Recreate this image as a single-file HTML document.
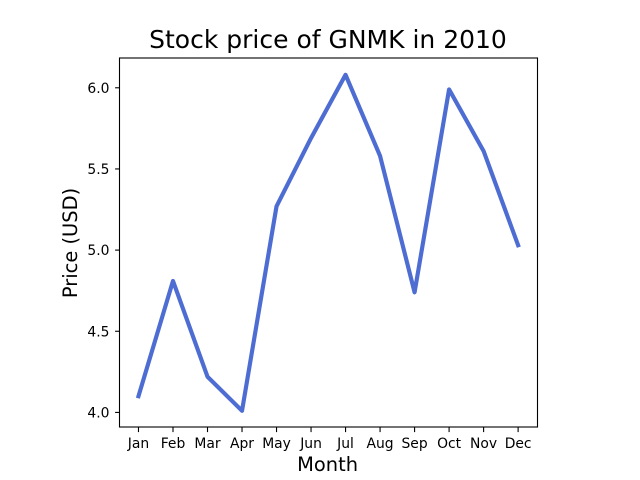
<!DOCTYPE html>
<html lang="en">
<head>
<meta charset="utf-8">
<title>Stock price of GNMK in 2010</title>
<style>
html,body{margin:0;padding:0;background:#fff;width:640px;height:480px;overflow:hidden}
svg{display:block}
text{font-family:"DejaVu Sans",sans-serif;fill:#000}
</style>
</head>
<body>
<svg id="chart" xmlns="http://www.w3.org/2000/svg" width="640" height="480" viewBox="0 0 640 480">
<rect x="0" y="0" width="640" height="480" fill="#fff"/>
<g id="marks"></g>
<rect x="119.5" y="58" width="418" height="369" fill="none" stroke="#000" stroke-width="1.1"/>
<g id="xaxis"></g>
<g id="yaxis"></g>
<text x="328" y="48" font-size="25" text-anchor="middle">Stock price of GNMK in 2010</text>
<text x="327.6" y="471" font-size="19.44" text-anchor="middle">Month</text>
<text x="0" y="0" font-size="19.44" text-anchor="middle" transform="translate(77 243) rotate(-90)">Price (USD)</text>
</svg>
<script>
const months = ['Jan','Feb','Mar','Apr','May','Jun','Jul','Aug','Sep','Oct','Nov','Dec'];
const prices = [4.10,4.81,4.22,4.01,5.27,5.69,6.08,5.58,4.74,5.99,5.61,5.03];
const yTicks = [4.0,4.5,5.0,5.5,6.0];
const yTickLabels = ['4.0','4.5','5.0','5.5','6.0'];

const NS = 'http://www.w3.org/2000/svg';
const plot = {left:119.5, right:537.1, top:58, bottom:427.6};
const margin = 0.05;
const lo = Math.min(...prices), hi = Math.max(...prices);
const yMin = lo - (hi - lo) * margin, yMax = hi + (hi - lo) * margin;
const xMin = -(months.length - 1) * margin, xMax = (months.length - 1) * (1 + margin);
function xScale(i){ return plot.left + (i - xMin) / (xMax - xMin) * (plot.right - plot.left); }
function yScale(v){ return plot.bottom - (v - yMin) / (yMax - yMin) * (plot.bottom - plot.top); }
function make(tag, attrs, parent){
  const el = document.createElementNS(NS, tag);
  for (const k in attrs) el.setAttribute(k, attrs[k]);
  parent.appendChild(el);
  return el;
}

const marks = document.getElementById('marks');
const xaxis = document.getElementById('xaxis');
const yaxis = document.getElementById('yaxis');

const line = make('polyline', {
  points: prices.map((v, i) => xScale(i).toFixed(2) + ',' + yScale(v).toFixed(2)).join(' '),
  fill: 'none', stroke: '#4e6dd3', 'stroke-width': 4.17,
  'stroke-linejoin': 'round', 'stroke-linecap': 'square'
}, marks);



months.forEach((m, i) => {
  const x = xScale(i);
  const tick = make('line', {x1: x, x2: x, y1: 427.2, y2: 432.1, stroke: '#000', 'stroke-width': 1.1}, xaxis);
  
  
  const label = make('text', {x: x, y: 448, 'font-size': 13.89, 'text-anchor': 'middle'}, xaxis);
  
  
  label.textContent = m;
});

yTicks.forEach((v, i) => {
  const y = yScale(v);
  const tick = make('line', {x1: 115.1, x2: 120, y1: y, y2: y, stroke: '#000', 'stroke-width': 1.1}, yaxis);
  
  
  const label = make('text', {x: 109.5, y: y + 5, 'font-size': 13.89, 'text-anchor': 'end'}, yaxis);
  
  
  label.textContent = yTickLabels[i];
});
</script>
</body>
</html>
